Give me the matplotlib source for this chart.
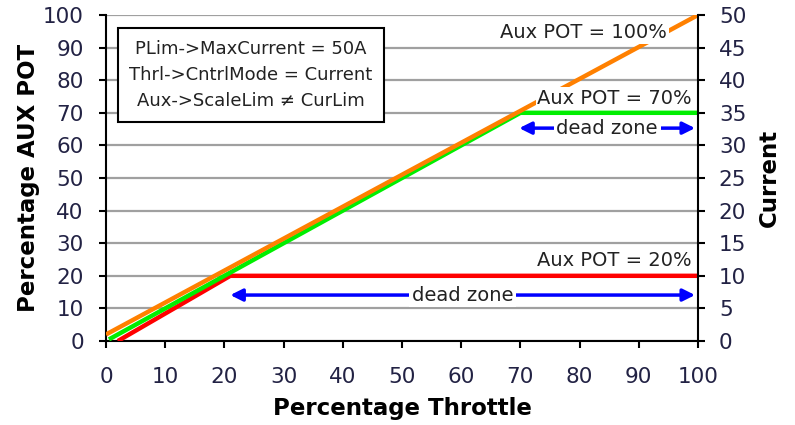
import matplotlib
matplotlib.use("Agg")
import matplotlib.pyplot as plt

# lines (throttle %, aux pot %)
orange_x = [0, 100]
orange_y = [2, 100]
green_x = [0.5, 70, 100]
green_y = [0.5, 70, 70]
red_x = [2, 21, 100]
red_y = [0, 20, 20]

x_ticks = list(range(0, 101, 10))
left_ticks = list(range(0, 101, 10))
right_ticks = list(range(0, 51, 5))

box_lines = ["PLim->MaxCurrent = 50A", "Thrl->CntrlMode = Current", "Aux->ScaleLim \u2260 CurLim"]

plt.rcParams['font.family'] = ['DejaVu Sans']
tick_col = '#222244'

fig = plt.figure(figsize=(7.95, 4.25), dpi=100)
ax = fig.add_axes([0.1333, 0.1976, 0.7447, 0.7671])
ax.set_xlim(0, 100)
ax.set_ylim(0, 100)

ax.plot(orange_x, orange_y, color='#ff8000', lw=3.2, zorder=3, solid_capstyle='butt')
ax.plot(green_x, green_y, color='#00ee00', lw=3.2, zorder=2.9, solid_capstyle='butt')
ax.plot(red_x, red_y, color='#ff0000', lw=3.2, zorder=2.8, solid_capstyle='butt')

ax.set_xticks(x_ticks)
ax.set_yticks(left_ticks)
ax.yaxis.grid(True, color='#a0a0a0', lw=1.6)
ax.set_axisbelow(True)
ax.spines['top'].set_visible(False)
ax.spines['right'].set_visible(False)
ax.spines['left'].set_linewidth(1.5)
ax.spines['bottom'].set_linewidth(1.5)
ax.tick_params(direction='out', length=5, width=1.5, labelsize=15.5, labelcolor=tick_col)
ax.tick_params(axis='x', pad=14)
ax.tick_params(axis='y', pad=11)
ax.set_xlabel("Percentage Throttle", fontsize=16.5, fontweight='bold', labelpad=7)
ax.set_ylabel("Percentage AUX POT", fontsize=16.5, fontweight='bold', labelpad=2)

ax2 = ax.twinx()
ax2.set_ylim(0, 50)
ax2.set_yticks(right_ticks)
for s in ['top', 'left', 'bottom']:
    ax2.spines[s].set_visible(False)
ax2.spines['right'].set_linewidth(1.5)
ax2.tick_params(direction='out', length=5, width=1.5, labelsize=15.5, labelcolor=tick_col, pad=10)
ax2.set_ylabel("Current", fontsize=16.5, fontweight='bold', labelpad=8)

# labels on lines
lab = dict(fontsize=14, color='#222222', zorder=5,
           bbox=dict(facecolor='white', edgecolor='none', pad=1))
ax.text(94.8, 94.5, "Aux POT = 100%", ha='right', va='center', **lab)
ax.text(99, 74.5, "Aux POT = 70%", ha='right', va='center', **lab)
ax.text(99, 24.8, "Aux POT = 20%", ha='right', va='center', **lab)

# dead zone arrows
for x0, x1, y in [(21, 99.5, 14.1), (69.8, 99.5, 65.3)]:
    ax.annotate("", xy=(x0, y), xytext=(x1, y),
                arrowprops=dict(arrowstyle='<|-|>', color='#0000ff', lw=2.5,
                                mutation_scale=18, shrinkA=0, shrinkB=0), zorder=4)
    ax.text((x0 + x1) / 2, y, "dead zone", ha='center', va='center', zorder=5,
            fontsize=14, color='#222222',
            bbox=dict(facecolor='white', edgecolor='none', pad=2))

ax.text(24.5, 81.6, "\n".join(box_lines), ha='center', va='center', fontsize=13,
        color='#222222', linespacing=1.6, zorder=6,
        bbox=dict(facecolor='white', edgecolor='black', lw=1.5, pad=8.5))

fig.savefig("out.png", dpi=100)
